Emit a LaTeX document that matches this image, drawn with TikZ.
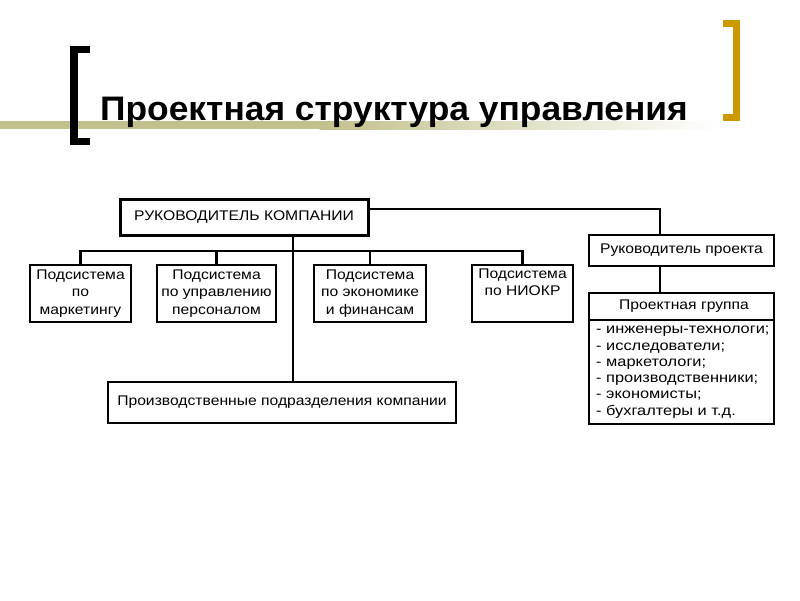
\documentclass[tikz,border=0pt]{standalone}
\usepackage{fontspec}
\setmainfont{Liberation Sans}
\newfontfamily\titlefont[FakeStretch=1.04]{Liberation Sans}
\newfontfamily\df[FakeStretch=1.12]{Liberation Sans}
\newfontfamily\lf[FakeStretch=1.17]{Liberation Sans}
\definecolor{gold}{RGB}{204,153,0}
\definecolor{olive}{RGB}{194,192,140}
\begin{document}
\begin{tikzpicture}[x=1pt,y=-1pt,
  box/.style={draw, line width=2pt, inner sep=2pt, font=\df\fontsize{14}{17.5}\selectfont, align=center},
  conn/.style={line width=2.2pt},
]
\useasboundingbox (0,0) rectangle (800,600);
% olive band
\fill[olive] (0,121) rectangle (320,129);
\shade[left color=olive, right color=white] (319.5,121) rectangle (720,129);
% brackets
\fill[black] (70,46) rectangle (78,145);
\fill[black] (70,46) rectangle (90,53);
\fill[black] (70,138) rectangle (90,145);
\fill[gold] (733,20) rectangle (740,121);
\fill[gold] (723,20) rectangle (740,27);
\fill[gold] (723,114) rectangle (740,121);
% title
\node[anchor=base west, inner sep=0, font=\titlefont\bfseries\fontsize{34}{40}\selectfont] (title) at (100,120) {Проектная структура управления};

% top box
\node[box, line width=3pt, minimum width=248, minimum height=36] (top) at (244,217) {РУКОВОДИТЕЛЬ КОМПАНИИ};
% subsystems
\node[box, minimum width=101, minimum height=57] (b1) at (80.5,293.5) {Подсистема\\по\\маркетингу};
\node[box, minimum width=119, minimum height=57] (b2) at (216.5,293.5) {Подсистема\\по управлению\\персоналом};
\node[box, minimum width=112, minimum height=57] (b3) at (370,293.5) {Подсистема\\по экономике\\и финансам};
\node[box, minimum width=101, minimum height=57] (b4) at (522.5,293.5) {Подсистема\\по НИОКР\\\strut};
% production
\node[box, minimum width=348, minimum height=41] (prod) at (282,402.5) {Производственные подразделения компании};
% project manager
\node[box, minimum width=185, minimum height=31] (rp) at (681.5,250.5) {Руководитель проекта};
% project group
\node[box, minimum width=185, minimum height=131, anchor=north] (pg) at (681.5,292) {};
\draw[line width=2pt] (pg.west |- 0,320) -- (pg.east |- 0,320);
\node[font=\df\fontsize{14}{17}\selectfont, anchor=center] (pgh) at (684,306) {Проектная группа};
\node[font=\lf\fontsize{14}{16.3}\selectfont, align=left, anchor=north west, inner sep=0] (pgl) at (596,326)
 {- инженеры-технологи;\\- исследователи;\\- маркетологи;\\- производственники;\\- экономисты;\\- бухгалтеры и т.д.};

% connectors
\coordinate (hl) at (0,251);
\coordinate (vx) at (293,0);
\coordinate (px) at (660,0);
\draw[conn] (b1.north) |- (b4.north |- hl) -- (b4.north);
\draw[conn] (b2.north) -- (b2.north |- hl);
\draw[conn] (b3.north) -- (b3.north |- hl);
\draw[conn] (top.south -| vx) -- (prod.north -| vx);
\draw[conn, line width=1.8pt] (top.east |- 0,209) -| (rp.north -| px);
\draw[conn] (rp.south -| px) -- (pg.north -| px);
\end{tikzpicture}
\end{document}
